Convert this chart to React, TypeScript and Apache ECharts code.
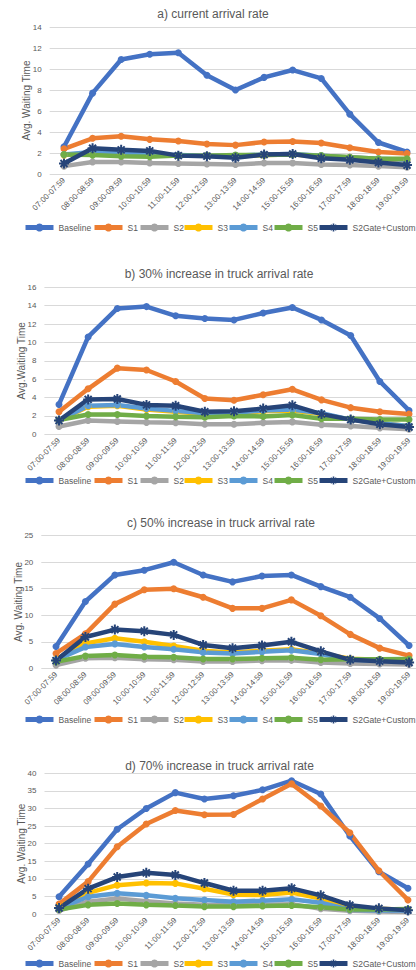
import React, { useEffect, useRef } from "react";
import * as echarts from "echarts";

const categories = [
  "07:00-07:59", "08:00-08:59", "09:00-09:59", "10:00-10:59", "11:00-11:59",
  "12:00-12:59", "13:00-13:59", "14:00-14:59", "15:00-15:59", "16:00-16:59",
  "17:00-17:59", "18:00-18:59", "19:00-19:59",
];
const seriesNames = ["Baseline", "S1", "S2", "S3", "S4", "S5", "S2Gate+Custom"];
const seriesColors = ["#4472C4", "#ED7D31", "#A5A5A5", "#FFC000", "#5B9BD5", "#70AD47", "#264478"];

// a) current arrival rate
const baseA = [2.6, 7.7, 10.9, 11.4, 11.55, 9.4, 8.0, 9.2, 9.9, 9.1, 5.7, 3.0, 2.1];
const s1A = [2.4, 3.4, 3.6, 3.3, 3.15, 2.85, 2.75, 3.05, 3.1, 2.95, 2.5, 2.1, 1.95];
const s2A = [0.75, 1.15, 1.15, 1.05, 1.0, 0.95, 0.9, 1.05, 1.05, 0.9, 0.85, 0.75, 0.65];
const s3A = [1.8, 2.0, 1.9, 1.8, 1.75, 1.75, 1.7, 1.8, 1.85, 1.7, 1.6, 1.4, 1.3];
const s4A = [1.85, 2.1, 2.0, 1.85, 1.8, 1.75, 1.75, 1.85, 1.9, 1.75, 1.6, 1.45, 1.35];
const s5A = [1.85, 1.8, 1.7, 1.65, 1.75, 1.75, 1.8, 1.8, 1.85, 1.75, 1.6, 1.45, 1.45];
const gateA = [1.0, 2.45, 2.3, 2.2, 1.75, 1.7, 1.55, 1.85, 1.9, 1.5, 1.35, 1.1, 0.85];

// b) 30% increase
const baseB = [3.25, 10.6, 13.7, 13.9, 12.9, 12.6, 12.45, 13.2, 13.8, 12.45, 10.75, 5.75, 2.6];
const s1B = [2.45, 4.95, 7.2, 7.0, 5.75, 3.9, 3.7, 4.3, 4.9, 3.75, 2.9, 2.45, 2.2];
const s2B = [0.85, 1.5, 1.4, 1.3, 1.25, 1.1, 1.1, 1.25, 1.35, 1.05, 0.9, 0.7, 0.55];
const s3B = [1.5, 3.0, 3.1, 2.7, 2.45, 2.2, 2.25, 2.5, 2.6, 2.2, 1.6, 1.2, 0.9];
const s4B = [1.5, 3.1, 3.2, 2.8, 2.55, 2.3, 2.35, 2.6, 2.7, 2.3, 1.6, 1.2, 0.9];
const s5B = [1.55, 2.15, 2.15, 2.0, 1.9, 1.85, 2.0, 1.95, 2.1, 1.7, 1.7, 1.6, 1.6];
const gateB = [1.5, 3.8, 3.85, 3.2, 3.1, 2.45, 2.5, 2.8, 3.15, 2.2, 1.6, 1.1, 0.8];

// c) 50% increase
const baseC = [4.1, 12.6, 17.6, 18.5, 20.0, 17.6, 16.3, 17.4, 17.6, 15.4, 13.4, 9.4, 4.3];
const s1C = [2.8, 6.5, 12.1, 14.8, 15.0, 13.4, 11.3, 11.3, 12.9, 9.9, 6.4, 3.8, 2.4];
const s2C = [0.6, 1.9, 2.0, 1.7, 1.6, 1.3, 1.3, 1.45, 1.5, 1.1, 0.9, 0.8, 0.7];
const s3C = [1.7, 4.7, 5.65, 5.0, 4.2, 3.3, 3.0, 3.3, 3.6, 2.8, 1.8, 1.6, 1.4];
const s4C = [1.6, 4.0, 4.6, 4.0, 3.6, 3.0, 2.8, 3.1, 3.4, 2.7, 1.6, 1.45, 1.5];
const s5C = [1.25, 2.3, 2.5, 2.2, 2.1, 1.75, 1.75, 1.9, 2.0, 1.6, 1.7, 1.7, 1.75];
const gateC = [1.45, 5.9, 7.3, 7.0, 6.3, 4.4, 3.8, 4.3, 5.0, 3.2, 1.6, 1.35, 1.1];

// d) 70% increase
const baseD = [4.9, 14.2, 24.1, 30.0, 34.5, 32.7, 33.6, 35.3, 37.9, 34.1, 22.2, 12.0, 7.3];
const s1D = [2.8, 9.2, 19.1, 25.6, 29.4, 28.2, 28.3, 32.7, 37.0, 30.7, 23.1, 12.3, 4.0];
const s2D = [1.0, 3.5, 4.4, 3.6, 3.0, 2.6, 2.4, 2.6, 2.8, 1.5, 0.9, 0.7, 0.6];
const s3D = [2.1, 6.0, 8.2, 8.8, 8.7, 7.2, 5.5, 5.4, 6.1, 4.4, 2.0, 1.5, 1.2];
const s4D = [1.6, 4.9, 5.9, 5.3, 4.5, 4.0, 3.5, 3.8, 4.2, 3.2, 1.2, 1.0, 1.0];
const s5D = [1.3, 2.6, 3.0, 2.6, 2.4, 2.1, 2.1, 2.3, 2.4, 1.9, 1.3, 1.3, 1.4];
const gateD = [1.7, 7.2, 10.5, 11.7, 11.1, 8.8, 6.6, 6.6, 7.3, 5.3, 2.5, 1.6, 1.1];

const panelTitles = [
  "a) current arrival rate",
  "b) 30% increase in truck arrival rate",
  "c) 50% increase in truck arrival rate",
  "d) 70% increase in truck arrival rate",
];
const yNames = ["Avg. Waiting Time", "Avg.Waiting Time", "Avg. Waiting Time", "Avg. Waiting Time"];
const yMax = [14, 16, 25, 40];
const yInterval = [2, 2, 5, 5];
const panelData = [
  [baseA, s1A, s2A, s3A, s4A, s5A, gateA],
  [baseB, s1B, s2B, s3B, s4B, s5B, gateB],
  [baseC, s1C, s2C, s3C, s4C, s5C, gateC],
  [baseD, s1D, s2D, s3D, s4D, s5D, gateD],
];

// layout (pixels)
const gridBoxes = [
  { left: 49.7, top: 27, width: 371.6, height: 147 },
  { left: 44.4, top: 287.3, width: 379.2, height: 147 },
  { left: 41.3, top: 535.7, width: 382.5, height: 132.6 },
  { left: 44.5, top: 773.3, width: 378, height: 140.7 },
];
const titleCenters = [
  { x: 213, y: 15 },
  { x: 219, y: 275 },
  { x: 221, y: 524 },
  { x: 219.5, y: 767 },
];
const legendTops = [228, 481, 720, 964];
const legendItemLefts = [23, 92, 138, 182, 227, 272, 317];

const TEXT = "#595959";
const FONT = "'Liberation Sans', Arial, sans-serif";
const starPath =
  "path://M-1,-5L1,-5L1,5L-1,5Z M-5,-1L5,-1L5,1L-5,1Z M-2.8,-4.2L4.2,2.8L2.8,4.2L-4.2,-2.8Z M2.8,-4.2L4.2,-2.8L-2.8,4.2L-4.2,2.8Z";

function buildOption() {
  const title: any[] = [];
  const grid: any[] = [];
  const xAxis: any[] = [];
  const yAxis: any[] = [];
  const legend: any[] = [];
  const series: any[] = [];
  for (let p = 0; p < 4; p++) {
    title.push({
      text: panelTitles[p],
      left: titleCenters[p].x,
      top: titleCenters[p].y - 7,
      textAlign: "center",
      padding: 0,
      textStyle: { fontSize: 12, fontWeight: "normal", color: TEXT, fontFamily: FONT },
    });
    grid.push({ ...gridBoxes[p], containLabel: false });
    xAxis.push({
      type: "category",
      gridIndex: p,
      data: categories,
      boundaryGap: true,
      axisLine: { show: false },
      axisTick: { show: false },
      axisLabel: { rotate: 45, interval: 0, fontSize: 8, color: TEXT, margin: 5, fontFamily: FONT },
    });
    yAxis.push({
      type: "value",
      gridIndex: p,
      min: 0,
      max: yMax[p],
      interval: yInterval[p],
      name: yNames[p],
      nameLocation: "middle",
      nameRotate: 90,
      nameGap: 18,
      nameMoveOverlap: false,
      nameTextStyle: { fontSize: 10, color: TEXT, fontFamily: FONT },
      axisLine: { show: false },
      axisTick: { show: false },
      axisLabel: { fontSize: 8, color: TEXT, margin: 8, fontFamily: FONT },
      splitLine: { lineStyle: { color: "#D9D9D9", width: 1 } },
    });
    for (let s = 0; s < seriesNames.length; s++) {
      legend.push({
        data: [seriesNames[s]],
        left: legendItemLefts[s],
        top: legendTops[p] - 5,
        padding: 0,
        itemGap: 0,
        itemWidth: 28,
        itemHeight: 10,
        lineStyle: { width: 5 },
        textStyle: { fontSize: 8.5, color: TEXT, fontFamily: FONT },
      });
    }
    for (let s = 0; s < seriesNames.length; s++) {
      const isGate = s === 6;
      series.push({
        type: "line",
        name: seriesNames[s],
        xAxisIndex: p,
        yAxisIndex: p,
        data: panelData[p][s],
        color: seriesColors[s],
        symbol: isGate ? starPath : "circle",
        symbolSize: isGate ? 10 : 7,
        lineStyle: { width: 4.5, color: seriesColors[s] },
        itemStyle: { color: seriesColors[s] },
        emphasis: { disabled: true },
      });
    }
  }
  return {
    animation: false,
    textStyle: { fontFamily: FONT },
    title,
    grid,
    xAxis,
    yAxis,
    legend,
    series,
  };
}

export default function App() {
  const ref = useRef<HTMLDivElement>(null);
  useEffect(() => {
    if (!ref.current) return;
    const chart = echarts.init(ref.current, undefined, { renderer: "svg" });
    chart.setOption(buildOption() as any);
    return () => chart.dispose();
  }, []);
  return (
    <div
      style={{
        position: "absolute",
        left: 0,
        top: 0,
        width: 416,
        height: 970,
        overflow: "hidden",
        background: "#ffffff",
      }}
    >
      <div ref={ref} style={{ width: 430, height: 970 }} />
    </div>
  );
}
